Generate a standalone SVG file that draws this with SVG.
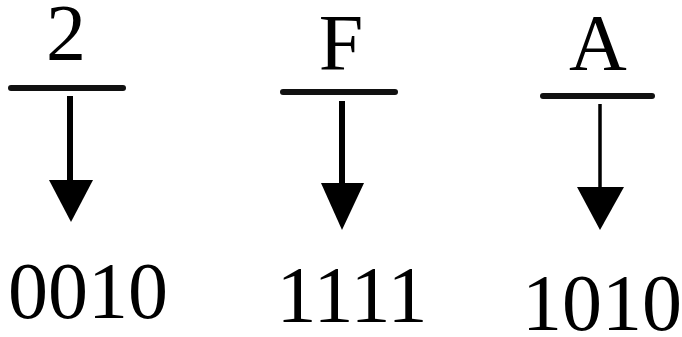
<svg xmlns="http://www.w3.org/2000/svg" width="682" height="337" viewBox="0 0 682 337">
<style>
.t{font-family:"Liberation Serif","Times New Roman",serif;font-size:80px;fill:#000;text-anchor:middle}
.bar{stroke:#111;stroke-width:6;stroke-linecap:round}
.shaft{stroke:#000}
.head{fill:#000}
</style>
<rect width="682" height="337" fill="#fff"/>
<g id="node-2">
<text class="t" x="66" y="60">2</text>
<line class="bar" x1="11" y1="88" x2="123" y2="88"/>
<text class="t" x="88" y="318">0010</text>
</g>
<g id="node-F">
<text class="t" x="341" y="70">F</text>
<line class="bar" x1="283" y1="92" x2="395" y2="92"/>
<text class="t" x="352" y="322">1111</text>
</g>
<g id="node-A">
<text class="t" x="598" y="70">A</text>
<line class="bar" x1="543" y1="96" x2="652" y2="96"/>
<text class="t" x="602" y="330">1010</text>
</g>
<g id="connectors">
<line class="shaft" x1="70" y1="96" x2="70" y2="182" stroke-width="6"/>
<polygon class="head" points="49,180 93,180 71,222"/>
<line class="shaft" x1="342" y1="101" x2="342" y2="185" stroke-width="6"/>
<polygon class="head" points="321,183 364,183 342,230"/>
<line class="shaft" x1="600" y1="104" x2="600" y2="189" stroke-width="3.5"/>
<polygon class="head" points="577,187 624,187 600,230"/>
</g>
</svg>
